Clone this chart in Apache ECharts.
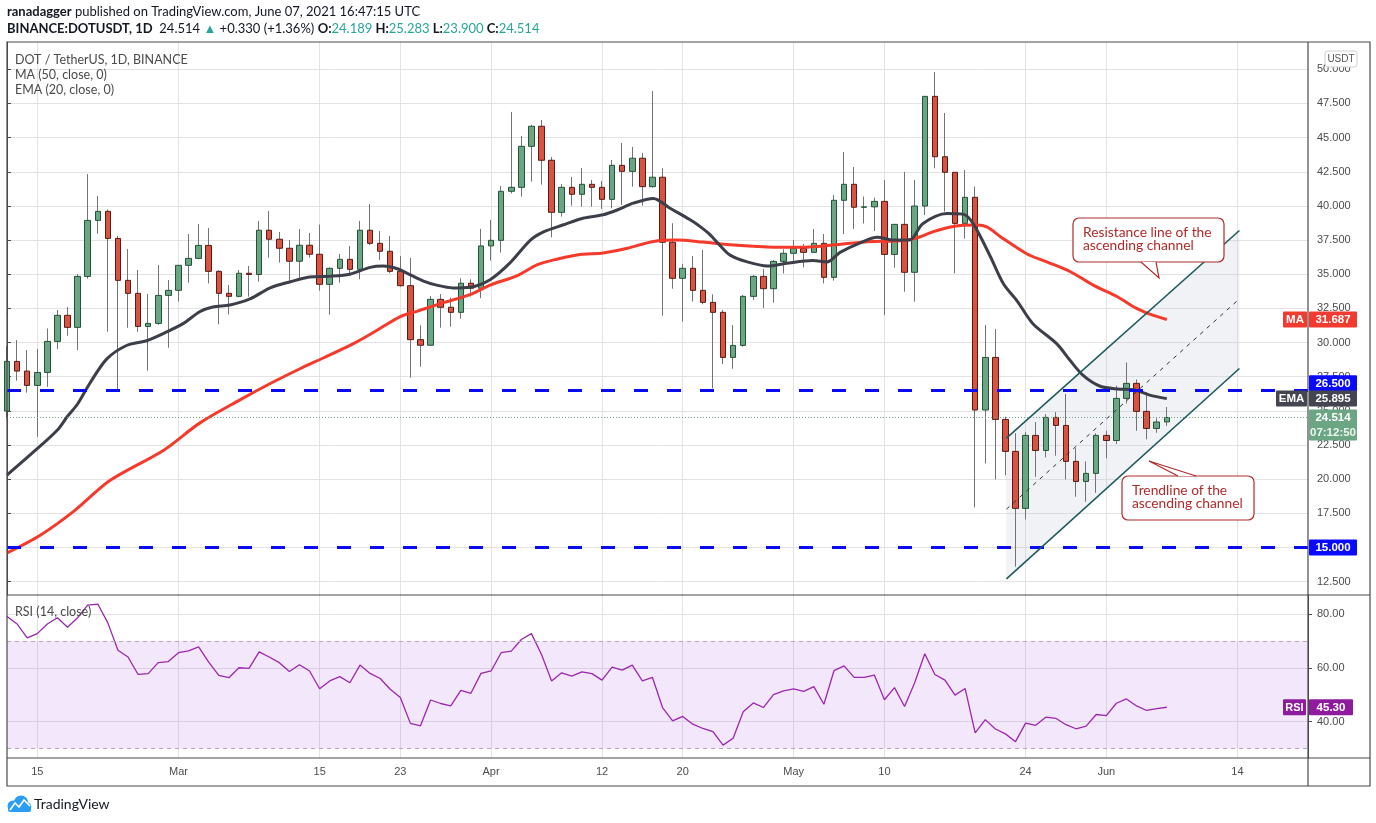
<!DOCTYPE html>
<html lang="en">
<head>
<meta charset="UTF-8">
<title>DOT / TetherUS, 1D, BINANCE</title>
<script src="https://cdn.jsdelivr.net/npm/echarts@6/dist/echarts.min.js"></script>
<style>
  html, body { margin: 0; padding: 0; background: #fff; }
  #main { width: 1376px; height: 823px; }
</style>
</head>
<body>
<div id="main"></div>
<script>
// one category per day, Feb 12 .. Jun 21 2021
var firstDay = Date.UTC(2021, 1, 12);
var dayCount = 130;
var days = [];
for (var i = 0; i < dayCount; i++) {
  days.push(new Date(firstDay + i * 86400000).toISOString().slice(0, 10));
}

// time axis labels
var tickDays = ['2021-02-15', '2021-03-01', '2021-03-15', '2021-03-23', '2021-04-01', '2021-04-12',
                '2021-04-20', '2021-05-01', '2021-05-10', '2021-05-24', '2021-06-01', '2021-06-14'];
var tickText = ['15', 'Mar', '15', '23', 'Apr', '12', '20', 'May', '10', '24', 'Jun', '14'];

// daily candles [open, close, low, high], Feb 12 .. Jun 7
var candles = [
  [24.98, 28.62, 24.45, 29.74], [28.62, 27.91, 27.2, 30.18], [27.91, 26.86, 26.33, 29.45],
  [26.86, 27.81, 23.1, 29.52], [27.81, 30.08, 26.76, 31.03], [30.08, 31.99, 29.52, 32.38],
  [31.99, 31.11, 30.5, 32.6], [31.11, 34.84, 29.45, 35.01], [34.84, 38.94, 34.67, 42.33],
  [38.94, 39.6, 37.97, 40.72], [39.6, 37.62, 30.79, 39.75], [37.62, 34.55, 26.52, 37.79],
  [34.55, 33.6, 31.08, 36.84], [33.6, 31.18, 30.79, 35.31], [31.18, 31.4, 27.94, 33.55],
  [31.4, 33.45, 31.3, 35.67], [33.45, 33.82, 29.62, 34.57],
  // Mar
  [33.82, 35.65, 33.0, 35.65], [35.65, 36.16, 34.38, 37.94], [36.16, 37.11, 36.1, 38.67],
  [37.11, 35.21, 34.33, 38.38], [35.21, 33.6, 31.33, 35.3], [33.6, 33.38, 32.06, 34.21],
  [33.38, 35.07, 33.31, 35.31], [35.07, 34.98, 33.36, 35.6], [34.98, 38.22, 34.46, 38.9],
  [38.22, 37.56, 36.21, 39.63], [37.56, 36.9, 35.85, 38.09], [36.9, 35.95, 34.46, 37.51],
  [35.95, 37.12, 34.7, 38.31], [37.12, 36.46, 36.21, 38.02], [36.46, 34.26, 33.8, 38.63],
  [34.26, 35.43, 32.04, 35.5], [35.43, 36.09, 34.38, 36.48], [36.09, 35.36, 34.95, 37.07],
  [35.36, 38.22, 34.63, 38.9], [38.22, 37.26, 37.14, 40.14], [37.26, 36.68, 36.04, 38.17],
  [36.68, 35.21, 35.07, 37.8], [35.21, 34.16, 34.09, 36.34], [34.16, 30.21, 27.43, 36.19],
  [30.21, 29.8, 28.23, 31.26], [29.8, 33.16, 29.8, 33.41], [33.16, 32.58, 31.09, 33.55],
  [32.58, 32.21, 31.16, 33.29], [32.21, 34.34, 31.75, 34.7], [34.34, 33.97, 33.36, 34.63],
  [33.97, 37.07, 33.24, 38.31],
  // Apr
  [37.07, 37.48, 36.0, 38.97], [37.48, 41.07, 36.58, 41.46], [41.07, 41.36, 40.92, 46.88],
  [41.36, 44.36, 40.68, 45.12], [44.36, 45.83, 41.78, 45.93], [45.83, 43.34, 41.56, 46.29],
  [43.34, 39.53, 37.7, 43.58], [39.53, 41.36, 39.22, 41.61], [41.36, 40.85, 40.02, 42.12],
  [40.85, 41.58, 39.95, 42.78], [41.58, 41.36, 39.95, 41.9], [41.36, 40.48, 39.78, 41.83],
  [40.48, 42.97, 39.83, 43.36], [42.97, 42.53, 40.07, 44.61], [42.53, 43.49, 41.41, 44.32],
  [43.49, 41.41, 40.02, 43.88], [41.41, 42.1, 41.34, 48.41], [42.1, 37.34, 31.97, 42.75],
  [37.34, 34.7, 33.94, 38.73], [34.7, 35.43, 31.53, 35.75], [35.43, 33.82, 33.0, 36.34],
  [33.82, 32.94, 32.8, 36.78], [32.94, 32.21, 26.64, 33.53], [32.21, 28.91, 28.43, 32.38],
  [28.91, 29.79, 28.08, 31.28], [29.79, 33.38, 29.69, 33.48], [33.38, 34.84, 33.11, 34.94],
  [34.84, 33.94, 32.52, 35.38], [33.94, 35.94, 32.92, 36.04], [35.94, 36.53, 35.06, 36.82],
  // May
  [36.53, 36.89, 35.8, 37.5], [36.89, 36.6, 35.5, 37.21], [36.6, 37.26, 36.6, 38.31],
  [37.26, 34.77, 34.33, 37.94], [34.77, 40.41, 34.53, 40.8], [40.41, 41.58, 37.94, 43.95],
  [41.58, 39.9, 38.31, 42.85], [39.9, 39.93, 38.72, 40.68], [39.93, 40.33, 38.16, 40.6],
  [40.33, 36.45, 32.01, 41.9], [36.45, 38.65, 35.48, 38.65], [38.65, 35.14, 33.72, 42.48],
  [35.14, 39.99, 32.99, 41.9], [39.99, 48.02, 39.33, 48.02], [48.02, 43.6, 42.75, 49.8],
  [43.6, 42.46, 39.58, 46.8], [42.46, 38.72, 35.06, 42.46], [38.72, 40.63, 37.6, 42.63],
  [40.63, 25.06, 17.93, 41.41], [25.06, 28.91, 21.15, 31.28], [28.91, 24.37, 19.98, 30.98],
  [24.37, 22.03, 20.27, 24.57], [22.03, 17.86, 13.59, 23.35], [17.86, 23.2, 17.05, 23.44],
  [23.2, 22.1, 20.17, 24.18], [22.1, 24.52, 21.59, 24.76], [24.52, 23.93, 21.71, 24.91],
  [23.93, 21.3, 19.98, 26.23], [21.3, 19.83, 18.71, 22.27], [19.83, 20.42, 18.34, 21.3],
  [20.42, 23.2, 19.0, 23.35],
  // Jun
  [23.2, 22.83, 21.52, 23.54], [22.83, 25.91, 22.57, 26.84], [25.91, 27.01, 25.54, 28.54],
  [27.01, 24.96, 23.54, 27.3], [24.96, 23.71, 22.91, 26.35], [23.71, 24.184, 23.39, 24.45],
  [24.189, 24.514, 23.9, 25.283]
];

// EMA 20 and MA 50: [day index, value]
var emaLine = [
  [0, 20.3], [2.8, 22.1], [5, 23.6], [6, 24.6], [7, 25.5], [8.2, 27.0], [9.9, 28.8], [11.9, 29.8],
  [13.9, 30.15], [15.9, 30.8], [17.5, 31.4], [19.1, 32.25], [20.4, 32.6], [22.1, 32.75], [24.1, 33.2],
  [26.1, 34.0], [28.1, 34.45], [30, 34.8], [32, 34.85], [34, 35.0], [36, 35.5], [37.3, 35.6],
  [38.7, 35.4], [40, 34.95], [41.3, 34.5], [42.6, 34.2], [44.2, 34.0], [45.9, 34.05], [47.9, 34.6],
  [49.9, 35.85], [51.9, 37.5], [53.2, 38.1], [55.1, 38.6], [57.1, 39.1], [59.1, 39.35], [60.5, 39.7],
  [62.1, 40.2], [64.1, 40.55], [65.7, 39.85], [67.7, 39.0], [68.7, 38.5], [69.7, 37.9], [70.7, 37.1],
  [71.7, 36.4], [73.4, 35.9], [75.4, 35.6], [77.3, 35.8], [79.9, 36.0], [81.3, 35.9], [82.6, 36.6],
  [84.6, 37.3], [86.3, 37.7], [87.9, 37.5], [89.5, 37.5], [90.8, 38.7], [93.2, 39.45], [94.8, 39.4],
  [95.8, 38.7], [97.5, 36.3], [98.8, 34.3], [100.2, 33.0], [101.7, 31.4], [104.1, 29.9], [105.4, 28.7],
  [106.7, 27.6], [108.4, 26.8], [110.1, 26.6], [111.7, 26.55], [113.3, 26.15], [115, 25.895]
];
var maLine = [
  [0, 14.6], [3.3, 15.9], [6.7, 17.7], [10.2, 19.9], [15.5, 22.1], [19.1, 24.1], [23.1, 25.8],
  [26.1, 27.0], [29.1, 28.1], [31.3, 28.85], [34.3, 29.9], [36.7, 30.9], [39, 31.9], [40.7, 32.3],
  [43.2, 32.9], [45.9, 33.5], [47.9, 34.2], [50.6, 34.9], [52.6, 35.7], [54.5, 36.1], [56.8, 36.45],
  [59.1, 36.55], [61.5, 36.9], [64.1, 37.4], [66.4, 37.5], [69, 37.35], [71.7, 37.15], [75.4, 37.0],
  [78.6, 36.97], [81.9, 37.14], [85.3, 37.38], [88.5, 37.45], [90.2, 37.65], [91.8, 38.1], [93.8, 38.5],
  [96.2, 38.6], [97.2, 38.45], [98.5, 37.75], [101.1, 36.5], [103.1, 35.9], [105.4, 35.2], [107.7, 34.2],
  [110.1, 33.35], [112, 32.5], [113.6, 32.0], [115, 31.687]
];

// RSI 14, one value per day
var rsi = [
  79.1, 76.3, 71.1, 72.7, 76.3, 78.6, 75.1, 78.6, 83.3, 83.7, 76.7, 66.5, 64.0, 57.5, 57.8, 61.9, 62.3,
  65.6, 66.3, 67.8, 62.1, 57.2, 56.3, 60.0, 59.8, 65.9, 64.0, 61.9, 58.6, 61.1, 58.8, 52.2, 55.1, 56.7,
  54.4, 61.0, 57.9, 56.0, 52.0, 48.9, 39.3, 38.4, 48.0, 46.7, 45.8, 51.6, 50.5, 57.9,
  58.8, 65.6, 66.2, 70.5, 72.7, 64.9, 55.1, 58.1, 56.9, 58.5, 57.8, 55.4, 60.2, 59.1, 61.0, 55.1, 56.4,
  45.2, 40.2, 41.9, 39.0, 37.4, 36.2, 31.2, 33.8, 43.6, 46.9, 45.2, 50.0, 51.4,
  52.1, 51.2, 53.0, 46.4, 58.9, 60.7, 56.4, 56.4, 57.3, 48.1, 52.6, 45.6, 54.4, 65.2, 57.5, 55.4, 49.8,
  52.3, 35.8, 40.7, 37.2, 35.4, 32.5, 39.4, 38.6, 41.6, 41.2, 38.8, 37.3, 38.3, 42.6,
  42.2, 46.8, 48.4, 45.8, 44.1, 44.8, 45.3
];

var priceTicks = [12.5, 15, 17.5, 20, 22.5, 25, 27.5, 30, 32.5, 35, 37.5, 40, 42.5, 45, 47.5, 50];
var rsiTicks = [40, 60, 80];
var levels = [26.5, 15];

// ascending channel (day index at both ends, then price)
var channelX = [99.1, 122.2];
var channelUpper = [23.0, 38.2];
var channelMid = [17.8, 33.2];
var channelLower = [12.7, 28.1];

var lastPrice = 24.514, lastMA = 31.687, lastEMA = 25.895, lastRSI = 45.30;

var UP = '#6ba583', DOWN = '#d75442';
var AXIS_FONT = 'Liberation Sans';

var chart = echarts.init(document.getElementById('main'));

function showTick(idx, val) { return tickDays.indexOf(val) >= 0; }

var option = {
  animation: false,
  backgroundColor: '#fff',
  grid: [
    { left: 7, right: 68, top: 42, height: 553 },
    { left: 7, right: 68, top: 595, height: 163 }
  ],
  xAxis: [
    {
      gridIndex: 0, type: 'category', data: days, boundaryGap: false,
      axisLine: { show: false }, axisTick: { show: false }, axisLabel: { show: false },
      splitLine: { show: true, interval: showTick, lineStyle: { color: '#e3e3e3' } }
    },
    { gridIndex: 0, type: 'value', min: 0, max: dayCount - 1, show: false },
    {
      gridIndex: 1, type: 'category', data: days, boundaryGap: false,
      axisLine: { show: false }, axisTick: { show: false },
      axisLabel: {
        interval: showTick, margin: 8, color: '#4c4c4c', fontSize: 11, fontFamily: AXIS_FONT,
        formatter: function (v) { return tickText[tickDays.indexOf(v)]; }
      },
      splitLine: { show: true, interval: showTick, lineStyle: { color: '#e3e3e3' } }
    }
  ],
  yAxis: [
    {
      gridIndex: 0, type: 'value', position: 'right', min: 11.519, max: 51.998, scale: true,
      axisLine: { show: true, lineStyle: { color: '#4a4a4a' } },
      axisTick: { show: true, length: 4, customValues: priceTicks, lineStyle: { color: '#4a4a4a' } },
      axisLabel: {
        customValues: priceTicks, margin: 9, color: '#4c4c4c', fontSize: 11, fontFamily: AXIS_FONT,
        formatter: function (v) { return v.toFixed(3); }
      },
      splitLine: { show: true, lineStyle: { color: '#e3e3e3' } }
    },
    {
      gridIndex: 1, type: 'value', position: 'right', min: 26.42, max: 87.07, scale: true,
      axisLine: { show: true, lineStyle: { color: '#4a4a4a' } },
      axisTick: { show: true, length: 4, customValues: rsiTicks, lineStyle: { color: '#4a4a4a' } },
      axisLabel: {
        customValues: rsiTicks, margin: 9, color: '#4c4c4c', fontSize: 11, fontFamily: AXIS_FONT,
        formatter: function (v) { return v.toFixed(2); }
      },
      splitLine: { show: true, lineStyle: { color: '#e3e3e3' } }
    }
  ],
  series: [
    {
      // channel shading
      type: 'custom', xAxisIndex: 1, yAxisIndex: 0, z: 1, silent: true,
      data: [[channelX[0], channelLower[0]]],
      renderItem: function (params, api) {
        var pts = [
          api.coord([channelX[0], channelUpper[0]]),
          api.coord([channelX[1], channelUpper[1]]),
          api.coord([channelX[1], channelLower[1]]),
          api.coord([channelX[0], channelLower[0]])
        ];
        return { type: 'polygon', shape: { points: pts }, style: { fill: 'rgba(175,182,200,0.18)' } };
      }
    },
    {
      // wicks
      type: 'candlestick', xAxisIndex: 0, yAxisIndex: 0, z: 2, silent: true, barWidth: 0.6,
      data: candles.map(function (c) { return [c[0], c[1], c[2], c[3]]; }),
      itemStyle: { color: '#737375', color0: '#737375', borderColor: '#737375', borderColor0: '#737375', borderWidth: 1 }
    },
    {
      // bodies
      type: 'candlestick', xAxisIndex: 0, yAxisIndex: 0, z: 3, silent: true, barWidth: 6,
      data: candles.map(function (c) { return [c[0], c[1], Math.min(c[0], c[1]), Math.max(c[0], c[1])]; }),
      itemStyle: { color: UP, color0: DOWN, borderColor: '#225437', borderColor0: '#5b1a13', borderWidth: 1 },
      markLine: {
        silent: true, symbol: ['none', 'none'], label: { show: false },
        data: [
          { yAxis: levels[0], lineStyle: { color: '#0a0af5', width: 3, type: [14, 19] } },
          { yAxis: levels[1], lineStyle: { color: '#0a0af5', width: 3, type: [14, 19] } },
          { yAxis: lastPrice, lineStyle: { color: UP, width: 1, type: [1, 2] } }
        ]
      }
    },
    {
      name: 'MA', type: 'line', xAxisIndex: 1, yAxisIndex: 0, z: 4, silent: true,
      data: maLine, showSymbol: false, smooth: 0.3,
      lineStyle: { color: '#f5392b', width: 3 }
    },
    {
      name: 'EMA', type: 'line', xAxisIndex: 1, yAxisIndex: 0, z: 4, silent: true,
      data: emaLine, showSymbol: false, smooth: 0.3,
      lineStyle: { color: '#3c3f4a', width: 3 }
    },
    {
      type: 'line', xAxisIndex: 1, yAxisIndex: 0, z: 5, silent: true, showSymbol: false,
      data: [[channelX[0], channelUpper[0]], [channelX[1], channelUpper[1]]],
      lineStyle: { color: '#1f5a5e', width: 1.6 }
    },
    {
      type: 'line', xAxisIndex: 1, yAxisIndex: 0, z: 5, silent: true, showSymbol: false,
      data: [[channelX[0], channelLower[0]], [channelX[1], channelLower[1]]],
      lineStyle: { color: '#1f5a5e', width: 1.6 }
    },
    {
      type: 'line', xAxisIndex: 1, yAxisIndex: 0, z: 5, silent: true, showSymbol: false,
      data: [[channelX[0], channelMid[0]], [channelX[1], channelMid[1]]],
      lineStyle: { color: '#333', width: 1, type: [4, 5] }
    },
    {
      name: 'RSI', type: 'line', xAxisIndex: 2, yAxisIndex: 1, z: 4, silent: true,
      data: rsi, showSymbol: false,
      lineStyle: { color: '#9b27af', width: 1.3 },
      markArea: {
        silent: true,
        itemStyle: { color: 'rgba(150,40,230,0.11)' },
        data: [[{ yAxis: 30 }, { yAxis: 70 }]]
      },
      markLine: {
        silent: true, symbol: ['none', 'none'], label: { show: false },
        lineStyle: { color: '#b9a4bf', width: 1, type: [4, 4] },
        data: [{ yAxis: 70 }, { yAxis: 30 }]
      }
    }
  ]
};
chart.setOption(option);

// ---- overlay: frame, texts, price tags, callouts
function py(v) { return chart.convertToPixel({ yAxisIndex: 0 }, v); }
function ry(v) { return chart.convertToPixel({ yAxisIndex: 1 }, v); }

var g = [];
function line(x1, y1, x2, y2, color, w, z) {
  g.push({ type: 'line', z: z || 50, shape: { x1: x1, y1: y1, x2: x2, y2: y2 }, style: { stroke: color, lineWidth: w || 1 } });
}
function box(x, y, w, h, fill, r) {
  g.push({ type: 'rect', z: 60, shape: { x: x, y: y, width: w, height: h, r: r || 0 }, style: { fill: fill } });
}
function label(x, y, text, color, size, align, weight, font) {
  g.push({
    type: 'text', z: 61, x: x, y: y,
    style: { text: text, fill: color, fontSize: size, fontFamily: font || AXIS_FONT, fontWeight: weight || 'normal', align: align || 'left', verticalAlign: 'middle' }
  });
}

// frame
g.push({ type: 'rect', z: 50, shape: { x: 7, y: 42, width: 1363, height: 744 }, style: { fill: 'none', stroke: '#4a4a4a', lineWidth: 1.2 } });
line(7, 595, 1370, 595, '#4a4a4a', 1.2);
line(7, 758, 1370, 758, '#4a4a4a', 1.2);
line(1308, 42, 1308, 786, '#4a4a4a', 1.2);

// header
var HF = 'Lato';
g.push({
  type: 'text', z: 61, x: 7, y: 12,
  style: {
    text: '{b|ranadagger}{n| published on TradingView.com, June 07, 2021 16:47:15 UTC}',
    verticalAlign: 'middle',
    rich: {
      b: { fontFamily: HF, fontSize: 13, fontWeight: 'bold', fill: '#131722' },
      n: { fontFamily: HF, fontSize: 13, fill: '#131722' }
    }
  }
});
g.push({
  type: 'text', z: 61, x: 7, y: 29,
  style: {
    text: '{b|BINANCE:DOTUSDT, 1D}{n|  24.514 }{t|▲}{n| +0.330 (+1.36%) }{b|O:}{t|24.189}{b| H:}{t|25.283}{b| L:}{t|23.900}{b| C:}{t|24.514}',
    verticalAlign: 'middle',
    rich: {
      b: { fontFamily: HF, fontSize: 13, fontWeight: 'bold', fill: '#131722' },
      n: { fontFamily: HF, fontSize: 13, fill: '#131722' },
      t: { fontFamily: HF, fontSize: 13, fill: '#26a69a' }
    }
  }
});

// pane legends
label(15, 60, 'DOT / TetherUS, 1D, BINANCE', '#4a4a4a', 12.5, 'left', 'normal', HF);
label(15, 75, 'MA (50, close, 0)', '#4a4a4a', 12.5, 'left', 'normal', HF);
label(15, 90, 'EMA (20, close, 0)', '#4a4a4a', 12.5, 'left', 'normal', HF);
label(15, 612, 'RSI (14, close)', '#4a4a4a', 12.5, 'left', 'normal', HF);

// USDT badge
g.push({ type: 'rect', z: 60, shape: { x: 1325, y: 51, width: 32, height: 16, r: 3 }, style: { fill: '#fff', stroke: '#cfcfcf' } });
label(1341, 59.5, 'USDT', '#555', 10, 'center');

// price tags on the right axis
function valueTag(yc, fill, text, name, nameW) {
  box(1309, yc - 8, 48, 16, fill, 1);
  label(1333, yc + 0.5, text, '#fff', 11.5, 'center', 'bold');
  if (name) {
    box(1308 - nameW - 1, yc - 8, nameW, 16, fill, 1);
    label(1308 - 1 - nameW / 2, yc + 0.5, name, '#fff', 11.5, 'center', 'bold');
  }
}
valueTag(py(lastMA), '#f23b30', lastMA.toFixed(3), 'MA', 24);
valueTag(py(levels[0]) - 7, '#0a0aff', levels[0].toFixed(3));
valueTag(py(lastEMA), '#434651', lastEMA.toFixed(3), 'EMA', 31);
valueTag(py(levels[1]), '#0a0aff', levels[1].toFixed(3));
var yp = py(lastPrice);
box(1309, yp - 8, 48, 31, UP, 1);
label(1333, yp + 0.5, lastPrice.toFixed(3), '#fff', 11.5, 'center', 'bold');
label(1333, yp + 15, '07:12:50', '#eef6f0', 11.5, 'center', 'bold');

// RSI tag
var yr = ry(lastRSI);
box(1283, yr - 8, 23, 16, '#8e1b9e', 1);
label(1294.5, yr + 0.5, 'RSI', '#fff', 11, 'center', 'bold');
box(1309, yr - 8, 44, 16, '#8e1b9e', 1);
label(1331, yr + 0.5, lastRSI.toFixed(2), '#fff', 11.5, 'center', 'bold');

// callouts: rounded box + tail
var CALL = '#b02a2a';
function callout(x, y, w, h, tail, lines) {
  g.push({ type: 'rect', z: 55, shape: { x: x, y: y, width: w, height: h, r: 6 }, style: { fill: '#fff', stroke: CALL, lineWidth: 1.2 } });
  g.push({ type: 'polygon', z: 56, shape: { points: tail }, style: { fill: '#fff' } });
  g.push({ type: 'polyline', z: 57, shape: { points: tail }, style: { fill: 'none', stroke: CALL, lineWidth: 1.2 } });
  for (var k = 0; k < lines.length; k++) {
    g.push({
      type: 'text', z: 58, x: x + 10, y: y + 15 + k * 13,
      style: { text: lines[k], fill: CALL, fontSize: 13.8, fontFamily: HF, align: 'left', verticalAlign: 'middle' }
    });
  }
}
callout(1073, 218, 151, 44, [[1141, 262], [1159, 278], [1156, 262]], ['Resistance line of the', 'ascending channel']);
callout(1122, 476, 132, 44, [[1178, 476], [1149, 461], [1196, 476]], ['Trendline of the', 'ascending channel']);

// TradingView logo
g.push({ type: 'circle', z: 60, shape: { cx: 13, cy: 806, r: 5.5 }, style: { fill: '#2a9df4' } });
g.push({ type: 'circle', z: 60, shape: { cx: 21, cy: 802.5, r: 7 }, style: { fill: '#2a9df4' } });
g.push({ type: 'circle', z: 60, shape: { cx: 26.5, cy: 807, r: 4.8 }, style: { fill: '#2a9df4' } });
g.push({ type: 'rect', z: 60, shape: { x: 8, y: 806, width: 23, height: 6, r: 2 }, style: { fill: '#2a9df4' } });
g.push({ type: 'polyline', z: 61, shape: { points: [[10, 810], [15, 803], [19, 807], [24, 800], [30, 806]] }, style: { stroke: '#fff', lineWidth: 1.6, fill: 'none' } });
label(34, 804, 'TradingView', '#131722', 14, 'left', 'normal', HF);

chart.setOption({ graphic: g });
</script>
</body>
</html>
